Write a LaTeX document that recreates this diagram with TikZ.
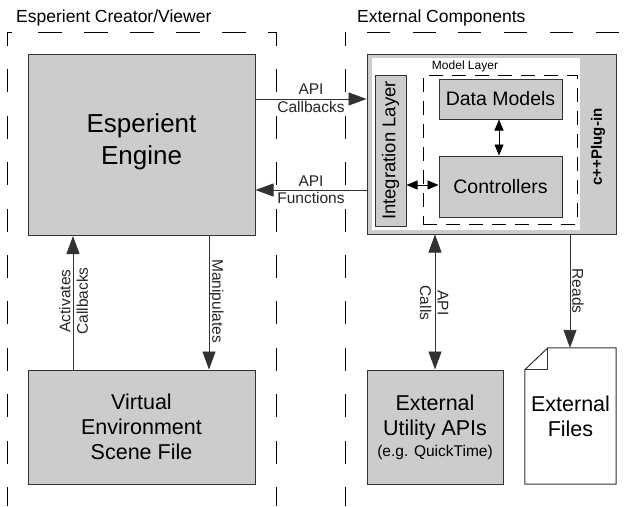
\documentclass[tikz,border=0pt]{standalone}
\usepackage{fontspec}
\setmainfont{Liberation Sans}
\usetikzlibrary{arrows.meta}
\definecolor{boxgray}{RGB}{204,204,204}
\definecolor{edge}{RGB}{50,50,50}
\begin{document}
\begin{tikzpicture}[x=1pt,y=-1pt,
 box/.style={draw=edge, fill=boxgray, line width=1pt, inner sep=0pt, align=center},
 grpv/.style={draw=black, line width=1pt, dash pattern=on 23pt off 23.4pt, dash phase=9pt},
 grph/.style={draw=black, line width=1pt, dash pattern=on 24pt off 22pt},
 grpc/.style={draw=black, line width=1pt},
 conn/.style={draw=edge, line width=0.9pt, -{Triangle[length=18pt,width=13pt]}},
 biconn/.style={draw=edge, line width=0.9pt, {Triangle[length=18pt,width=13pt]}-{Triangle[length=18pt,width=13pt]}},
 smallbi/.style={draw=black, line width=0.9pt, {Triangle[length=11pt,width=9pt]}-{Triangle[length=11pt,width=9pt]}},
 lbl/.style={font=\fontsize{15.5}{17.5}\selectfont, align=center, inner sep=0pt, text=black!85},
 big/.style={font=\fontsize{21.5}{25}\selectfont},
 ttl/.style={font=\fontsize{17.5}{20}\selectfont, anchor=west, inner sep=0pt},
]
\useasboundingbox (0,0) rectangle (634,506);
\fill[white] (0,0) rectangle (634,506);

% titles
\node[ttl] (t1) at (16,18) {Esperient Creator/Viewer};
\node[ttl] (t2) at (357,18) {External Components};

% groups
\draw[grpv] (7,32) -- (7,506);
\draw[grpv] (276,32) -- (276,506);
\draw[grpc] (7,32) -- (12,32);
\draw[grph] (38,32) -- (276,32);
\draw[grpv] (345,32) -- (345,506);
\draw[grph, dash pattern=on 23pt off 22.7pt] (367,32) -- (640,32);

% left boxes
\node[box, minimum width=227pt, minimum height=181pt] (engine) at (141.5,145) {};
\node[inner sep=0pt, align=center, font=\fontsize{26}{31.5}\selectfont] (englbl) at (141.5,142) {Esperient\\Engine};
\node[box, big, minimum width=227pt, minimum height=114pt] (scene) at (141.5,427) {Virtual\\Environment\\Scene File};

% plug-in
\node[box, minimum width=249pt, minimum height=180pt] (plugin) at (491.5,144) {};
\node[fill=white, inner sep=0pt, minimum width=208pt, minimum height=172pt] (inner) at (476,144) {};
\node[rotate=90, inner sep=0pt, font=\bfseries\fontsize{15}{17}\selectfont] (plug) at (598,147) {c++Plug-in};
\node[box, minimum width=31pt, minimum height=151pt] (integ) at (390.5,150.5) {};
\node[rotate=90, inner sep=0pt, font=\fontsize{18.5}{20}\selectfont] (integlbl) at (integ) {Integration Layer};
\node[draw=black, line width=0.9pt, dash pattern=on 14pt off 9pt, inner sep=0pt, minimum width=154pt, minimum height=149pt] (model) at (500,149.5) {};
\node[inner sep=0pt, font=\fontsize{12}{14}\selectfont] (modellbl) at (465,66) {Model Layer};
\node[box, minimum width=123pt, minimum height=40pt, font=\fontsize{19.5}{22}\selectfont] (data) at (500.5,99) {Data Models};
\node[box, minimum width=123pt, minimum height=61pt, font=\fontsize{19.5}{22}\selectfont] (ctrl) at (500.5,186.5) {Controllers};

% bottom right
\node[box, big, minimum width=136pt, minimum height=114pt] (util) at (435,427) {External\\Utility APIs\\[-4pt]{\fontsize{15.5}{18}\selectfont (e.g. QuickTime)}};
\node[big, inner sep=0pt, minimum width=91pt, minimum height=136pt, align=center] (files) at (570.5,416) {External\\Files};
\draw[draw=edge, line width=1pt] (files.south west) -- ([yshift=-22pt]files.north west) -- ([xshift=23pt]files.north west) -- (files.north east) -- (files.south east) -- cycle;
\draw[draw=edge, line width=1pt] ([xshift=23pt]files.north west) -- ([xshift=23pt,yshift=-22pt]files.north west) -- ([yshift=-22pt]files.north west);

% connectors
\coordinate (cb) at (300,99);
\coordinate (fn) at (300,190);
\draw[conn] (engine.east |- cb) -- (plugin.west |- cb);
\draw[conn] (plugin.west |- fn) -- (engine.east |- fn);
\node[lbl] (cblbl) at (311,98) {API\\Callbacks};
\node[lbl] (fnlbl) at (311,189.5) {API\\Functions};

\coordinate (ac) at (73,300);
\coordinate (mp) at (209,300);
\draw[conn] (scene.north -| ac) -- (engine.south -| ac);
\draw[conn] (engine.south -| mp) -- (scene.north -| mp);
\node[lbl, rotate=90] (aclbl) at (73.5,301) {Activates\\Callbacks};
\node[lbl, rotate=-90] (mplbl) at (216.5,301) {Manipulates};

\coordinate (apc) at (435,300);
\coordinate (rd) at (570,300);
\draw[biconn] (plugin.south -| apc) -- (util.north -| apc);
\draw[conn] (plugin.south -| rd) -- (files.north -| rd);
\node[lbl, rotate=-90] (apclbl) at (434,303) {API\\Calls};
\node[lbl, rotate=-90] (rdlbl) at (578,291) {Reads};

\coordinate (dc) at (499,150);
\coordinate (ic) at (420,185);
\draw[smallbi] (data.south -| dc) -- (ctrl.north -| dc);
\draw[smallbi] (integ.east |- ic) -- (ctrl.west |- ic);
\end{tikzpicture}
\end{document}
